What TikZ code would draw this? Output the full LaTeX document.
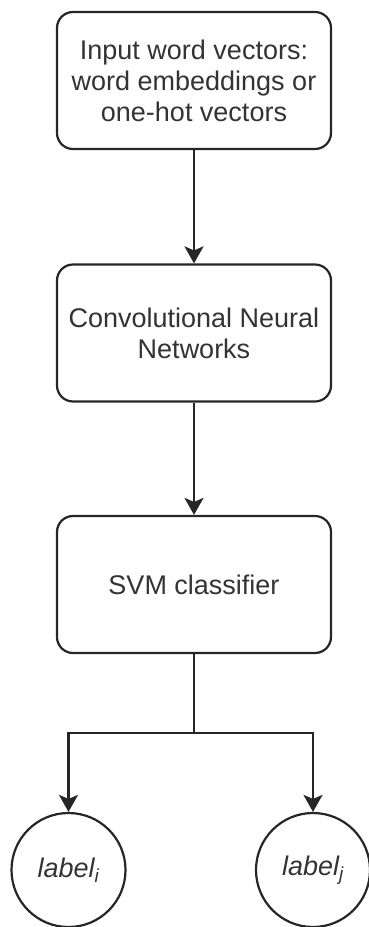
\documentclass[tikz,border=0pt]{standalone}
\usepackage{fontspec}
\setmainfont{Liberation Sans}
\usetikzlibrary{arrows.meta}
\tikzset{
  stagebox/.style={draw=black!85, line width=2.2pt, rounded corners=16pt,
    minimum width=274pt, minimum height=137pt, align=center, inner sep=0pt,
    font=\fontsize{27}{31}\selectfont, text=black!80},
  outcome/.style={circle, draw=black!85, line width=2.2pt, minimum size=114pt,
    inner sep=0pt, font=\fontsize{27}{31}\selectfont\itshape, text=black!80},
  flow/.style={line width=2.2pt, draw=black!85,
    -{Stealth[length=17pt,width=19pt,inset=4pt]}},
  link/.style={line width=2.2pt, draw=black!85}
}
\begin{document}
\begin{tikzpicture}[x=1pt,y=-1pt]
  \useasboundingbox (0,0) rectangle (369,927);

  % processing stages
  \node[stagebox] (input) at (194,80.5)
    {Input word vectors:\\word embeddings or\\one-hot vectors};
  \node[stagebox] (cnn) at (194,333)
    {Convolutional Neural\\Networks};
  \node[stagebox] (svm) at (194,584.5) {SVM classifier};

  % output classes
  \node[outcome] (li) at (68.5,870) {label\textsubscript{\itshape i}};
  \node[outcome] (lj) at (313,870) {label\textsubscript{\itshape j}};

  % connectors
  \draw[flow] (input.south) -- (cnn.north);
  \draw[flow] (cnn.south) -- (svm.north);
  \coordinate (split) at (194,733);
  \draw[link] (svm.south) -- (split);
  \draw[flow] (split) -| (li.north);
  \draw[flow] (split) -| (lj.north);
\end{tikzpicture}
\end{document}
